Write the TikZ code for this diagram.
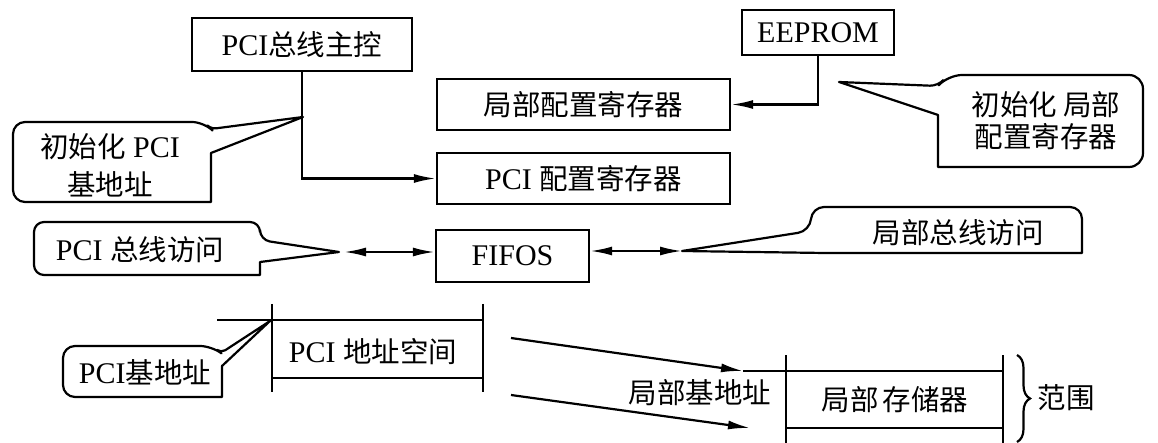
\documentclass[tikz,border=0pt]{standalone}
\usepackage{fontspec}
\setmainfont{Liberation Serif}
\newfontfamily\cjk[Scale=0.95]{Noto Sans CJK SC}
\newcommand\zh[1]{{\cjk #1}}
\usetikzlibrary{arrows.meta,decorations.pathreplacing}
\begin{document}
\begin{tikzpicture}[x=1pt,y=-1pt,line width=2.2pt,
  lbl/.style={font=\fontsize{30}{34}\selectfont, inner sep=0pt},
  box/.style={lbl, draw, line width=2.4pt},
  arr/.style={-{Latex[length=22pt,width=9pt]}},
  dbl/.style={{Latex[length=22pt,width=9pt]}-{Latex[length=22pt,width=9pt]}},
  call/.style={line width=2.2pt, line join=round}]
\useasboundingbox (0,0) rectangle (1158,443);
% boxes
\node[box, minimum width=220pt, minimum height=53pt] (master) at (302,44.5) {PCI\zh{总线主控}};
\node[box, minimum width=152pt, minimum height=45pt] (eeprom) at (818,32.5) {EEPROM};
\node[box, minimum width=293pt, minimum height=51pt] (lcfg) at (583.5,104.5) {\zh{局部配置寄存器}\hspace{30pt}};
\node[box, minimum width=293pt, minimum height=51pt] (pcfg) at (583.5,178.5) {PCI \zh{配置寄存器}\hspace{30pt}};
\node[box, minimum width=153pt, minimum height=52pt] (fifo) at (512.5,256) {FIFOS};
% connectors
\draw[arr] (master.south) |- (pcfg.west);
\draw[arr] (eeprom.south) |- (lcfg.east);
\coordinate (t3) at (339,252);
\coordinate (t4) at (682,251);
\draw[dbl] ([xshift=5pt]t3) -- (t3 -| fifo.west);
\draw[dbl] (t4 -| fifo.east) -- (t4);
% callouts
\draw[call] (303,117) -- (211,153) -- (211,202) [rounded corners=12pt] -- (13,202) -- (13,122) -- (204,122) [rounded corners=5pt] -- (211,129) [sharp corners] -- cycle;
\node[lbl, align=center] (c1) at (110,165) {\zh{初始化} PCI\\[4pt]\zh{基地址}};
\draw[call] (839,82) -- (938,115) -- (938,167) [rounded corners=14pt] -- (1143,167) -- (1143,75) -- (948,75) [rounded corners=8pt] -- (938,86) [sharp corners] -- cycle;
\node[lbl, align=center] (c2) at (1046,121) {\zh{初始化 局部}\\[-2pt]\zh{配置寄存器}};
\draw[call] (t3) -- (260,262) -- (260,275) [rounded corners=10pt] -- (34,275) -- (34,222) -- (260,222) -- (260,240) [sharp corners] -- cycle;
\node[lbl] (c3) at (140,250) {PCI \zh{总线访问}};
\draw[call] (t4) -- (825,253) -- (1082,253) [rounded corners=12pt] -- (1082,207) -- (812,207) -- (810,231) [sharp corners] -- cycle;
\node[lbl] (c4) at (958,233) {\zh{局部总线访问}};
\draw[call] (270,321) -- (222,366) -- (222,397) [rounded corners=12pt] -- (63,397) -- (63,346) -- (212,346) [rounded corners=5pt] -- (221,353) [sharp corners] -- cycle;
\node[lbl] (c5) at (145,372) {PCI\zh{基地址}};
% PCI address space
\draw (217,320) -- (483,320);
\draw (272,378) -- (483,378);
\draw (272,304) -- (272,392);
\draw (483,304) -- (483,392);
\node[lbl] (pas) at (373,352) {PCI \zh{地址空间}};
% local memory
\draw (743,371) -- (1003,371);
\draw (786,428) -- (1003,428);
\draw (786,355) -- (786,443);
\draw (1003,355) -- (1003,443);
\node[lbl] (lmem) at (895,400) {\zh{局部}\hspace{4pt}\zh{存储器}};
\node[lbl] (lba) at (700,393) {\zh{局部基地址}};
\draw[decorate, decoration={brace, amplitude=13pt}] (1017,355) -- (1017,442);
\node[lbl] (rng) at (1066,398) {\zh{范围}};
% mapping arrows
\coordinate (a1) at (511,338);
\coordinate (b1) at (743,371);
\coordinate (a2) at (511,395);
\coordinate (b2) at (750,428);
\draw[arr] (a1) -- (b1);
\draw[arr] (a2) -- (b2);
\end{tikzpicture}
\end{document}
